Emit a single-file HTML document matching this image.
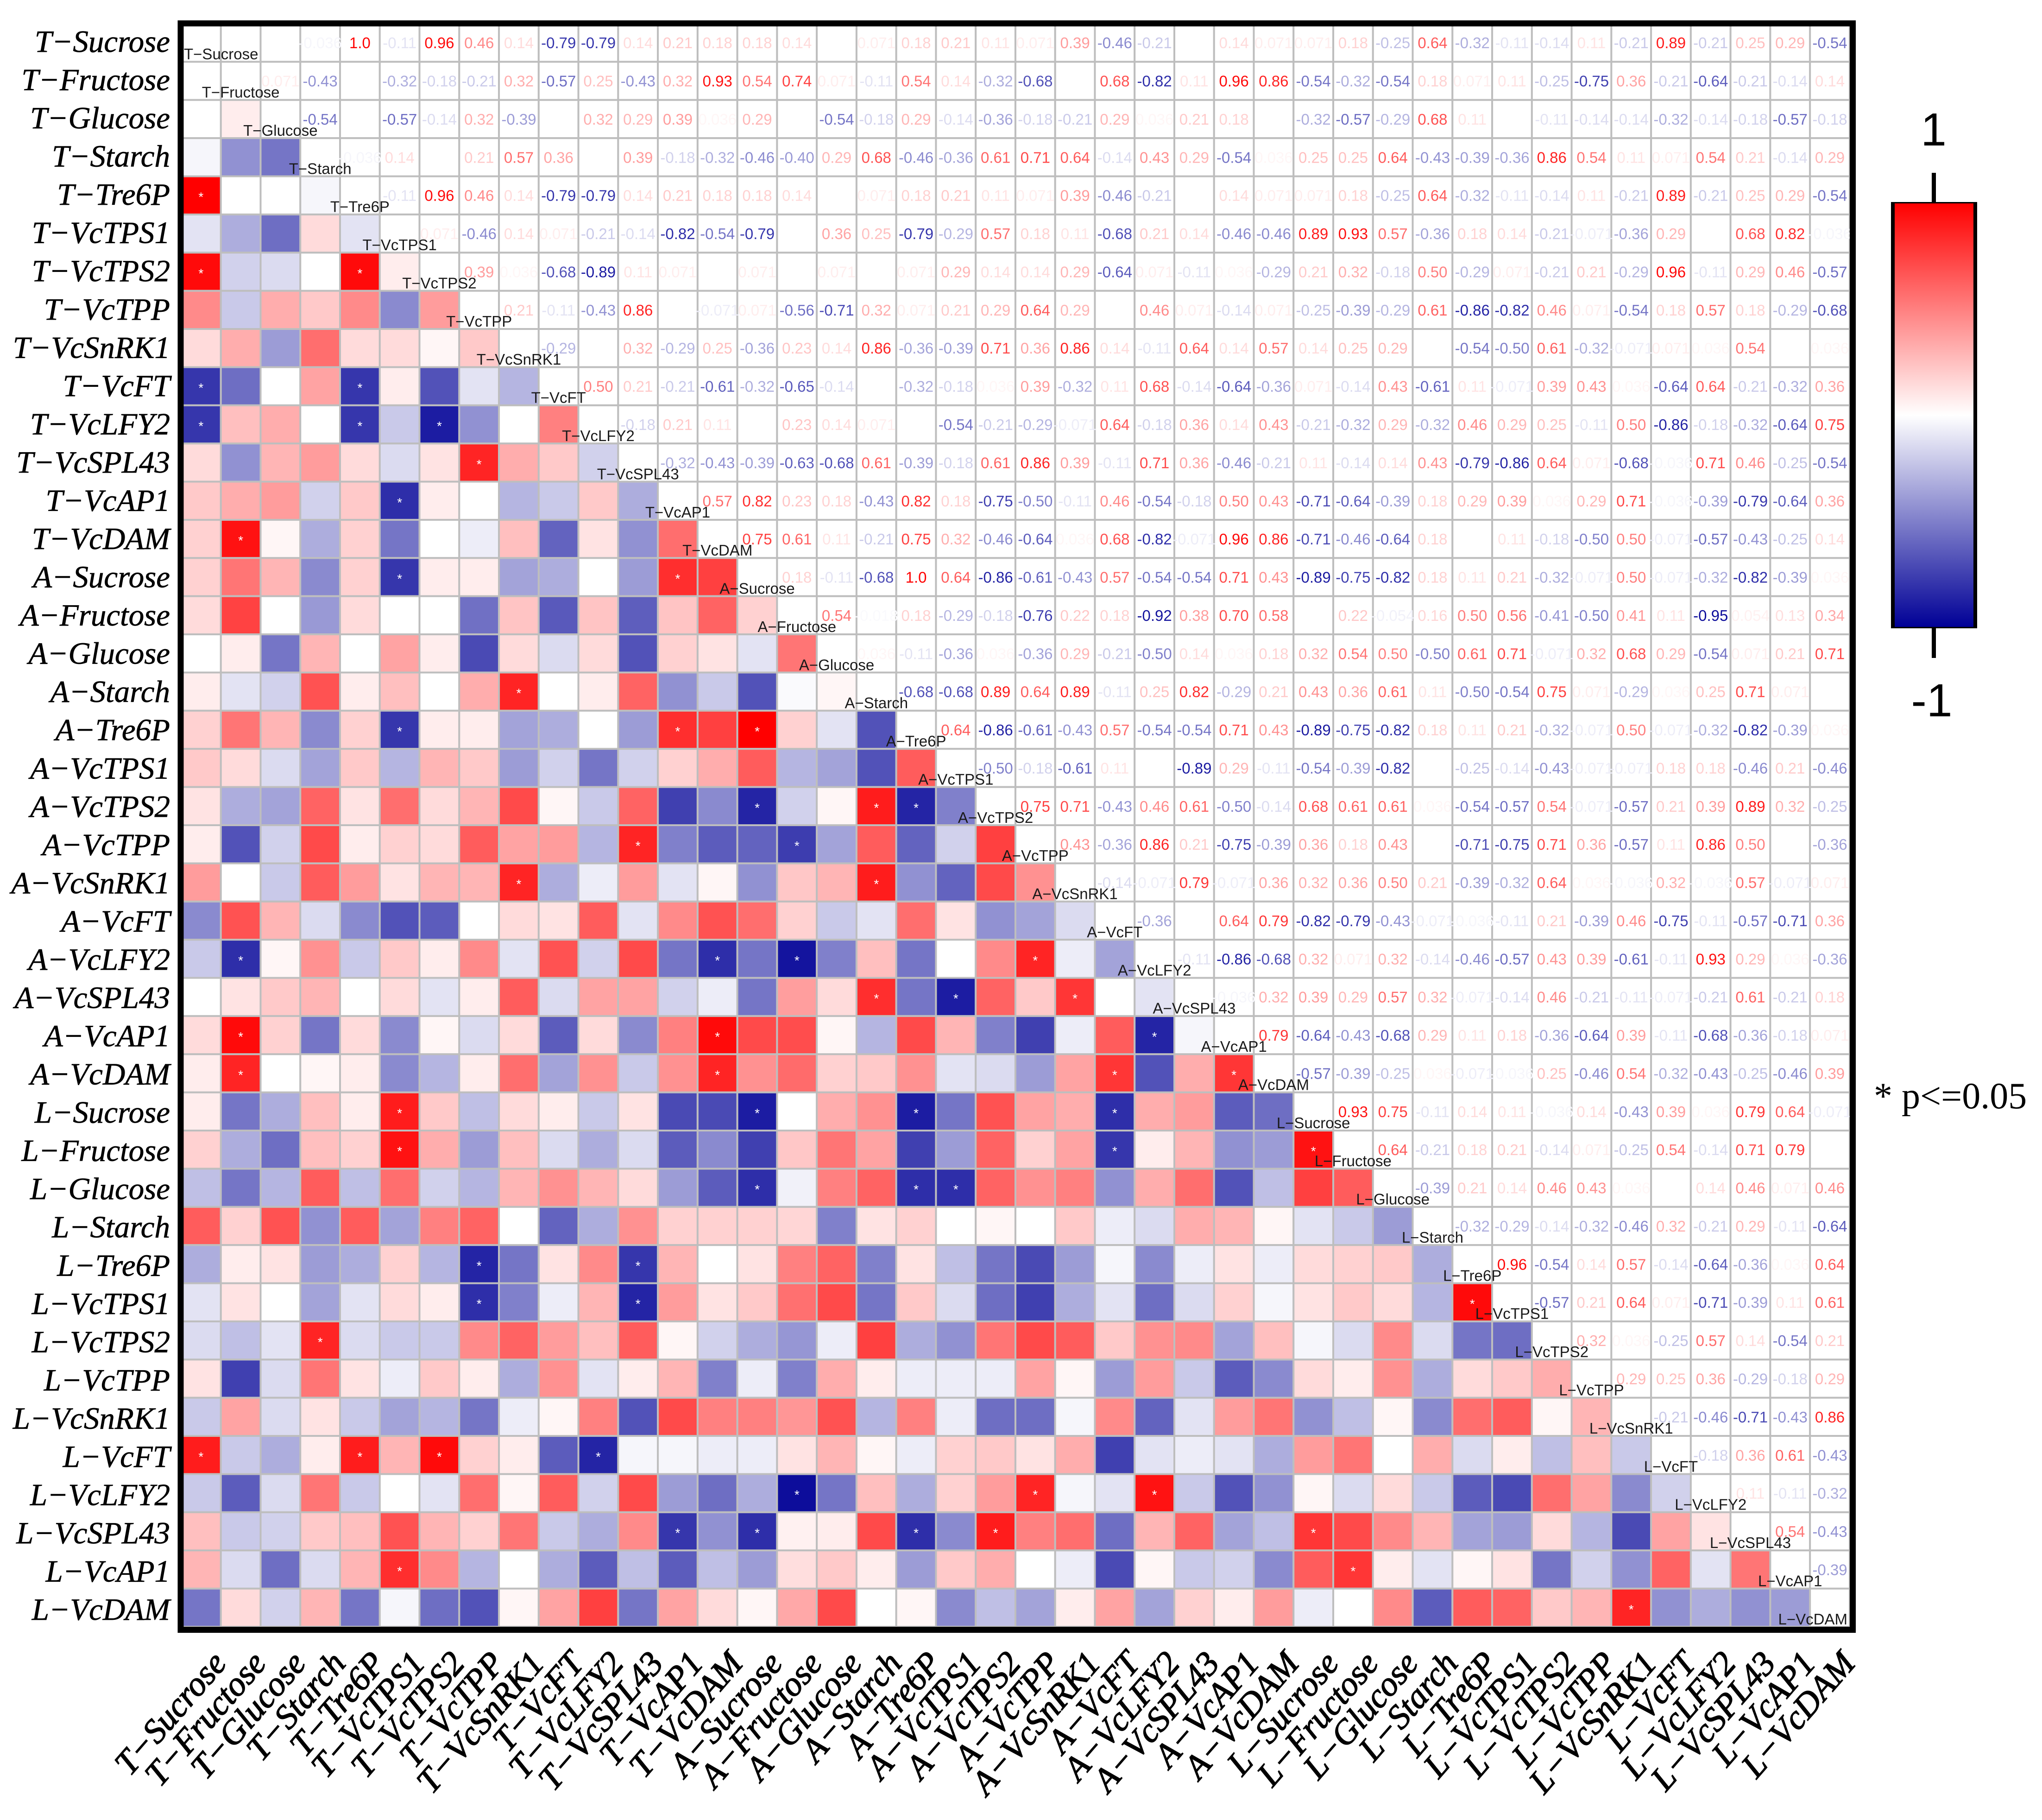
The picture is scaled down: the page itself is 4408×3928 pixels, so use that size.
<!DOCTYPE html>
<html lang="en">
<head>
<meta charset="utf-8">
<title>Correlation heatmap</title>
<style>
html,body{margin:0;padding:0;background:#fff;width:4408px;height:3928px;overflow:hidden}
svg{display:block}
</style>
</head>
<body>
<svg id="chart" xmlns="http://www.w3.org/2000/svg" width="4408" height="3928" viewBox="0 0 4408 3928">
  <defs>
    <linearGradient id="cbar" x1="0" y1="0" x2="0" y2="1">
      <stop offset="0" stop-color="#ff0000"/>
      <stop offset="0.5" stop-color="#ffffff"/>
      <stop offset="1" stop-color="#000096"/>
    </linearGradient>
  </defs>
  <rect x="0" y="0" width="4408" height="3928" fill="#fff"/>
  <g id="cells"></g>
  <g id="values" font-family="'Liberation Sans',sans-serif" font-size="33" text-anchor="middle"></g>
  <g id="stars" font-family="'Liberation Sans',sans-serif" font-size="28" text-anchor="middle" fill="#fff"></g>
  <g id="diag" font-family="'Liberation Sans',sans-serif" font-size="33" fill="#1a1a1a"></g>
  <rect x="390" y="50.5" width="3609.5" height="3467" fill="none" stroke="#000" stroke-width="13"/>
  <g id="ylabels" font-family="'Liberation Serif',serif" font-style="italic" font-size="67" text-anchor="end" fill="#000" stroke="#000" stroke-width="0.7"></g>
  <g id="xlabels" font-family="'Liberation Serif',serif" font-style="italic" font-size="74" text-anchor="end" fill="#000" stroke="#000" stroke-width="1.6"></g>
  <g>
    <rect x="4086" y="438" width="178" height="916" fill="url(#cbar)"/>
    <rect x="4082" y="437" width="8" height="918" fill="#000"/>
    <rect x="4260" y="437" width="8" height="918" fill="#000"/>
    <rect x="4082" y="436" width="186" height="3" fill="#000"/>
    <rect x="4082" y="1353" width="186" height="3" fill="#000"/>
    <rect x="4170" y="373" width="9" height="64" fill="#000"/>
    <rect x="4170" y="1355" width="9" height="65" fill="#000"/>
    <text x="4174" y="314" font-family="'Liberation Sans',sans-serif" font-size="100" text-anchor="middle">1</text>
    <text x="4170" y="1546" font-family="'Liberation Sans',sans-serif" font-size="100" text-anchor="middle">-1</text>
  </g>
  <text x="4045" y="2392" font-family="'Liberation Serif',serif" font-size="80">* p&lt;=0.05</text>
</svg>
<script>
const variables = ["T−Sucrose","T−Fructose","T−Glucose","T−Starch","T−Tre6P","T−VcTPS1","T−VcTPS2","T−VcTPP","T−VcSnRK1","T−VcFT","T−VcLFY2","T−VcSPL43","T−VcAP1","T−VcDAM","A−Sucrose","A−Fructose","A−Glucose","A−Starch","A−Tre6P","A−VcTPS1","A−VcTPS2","A−VcTPP","A−VcSnRK1","A−VcFT","A−VcLFY2","A−VcSPL43","A−VcAP1","A−VcDAM","L−Sucrose","L−Fructose","L−Glucose","L−Starch","L−Tre6P","L−VcTPS1","L−VcTPS2","L−VcTPP","L−VcSnRK1","L−VcFT","L−VcLFY2","L−VcSPL43","L−VcAP1","L−VcDAM"];

/* Upper-triangle correlations: each array holds a row's values for the columns right of the diagonal */
const rowTSucrose = [0,0,-.036,1,-.11,.96,.46,.14,-.79,-.79,.14,.21,.18,.18,.14,0,.071,.18,.21,.11,.071,.39,-.46,-.21,0,.14,.071,.071,.18,-.25,.64,-.32,-.11,-.14,.11,-.21,.89,-.21,.25,.29,-.54];
const rowTFructose = [.071,-.43,0,-.32,-.18,-.21,.32,-.57,.25,-.43,.32,.93,.54,.74,.071,-.11,.54,.14,-.32,-.68,0,.68,-.82,.11,.96,.86,-.54,-.32,-.54,.18,.071,.11,-.25,-.75,.36,-.21,-.64,-.21,-.14,.14];
const rowTGlucose = [-.54,0,-.57,-.14,.32,-.39,0,.32,.29,.39,.036,.29,0,-.54,-.18,.29,-.14,-.36,-.18,-.21,.29,.036,.21,.18,0,-.32,-.57,-.29,.68,.11,0,-.11,-.14,-.14,-.32,-.14,-.18,-.57,-.18];
const rowTStarch = [-.036,.14,0,.21,.57,.36,0,.39,-.18,-.32,-.46,-.40,.29,.68,-.46,-.36,.61,.71,.64,-.14,.43,.29,-.54,.036,.25,.25,.64,-.43,-.39,-.36,.86,.54,.11,.071,.54,.21,-.14,.29];
const rowTTre6P = [-.11,.96,.46,.14,-.79,-.79,.14,.21,.18,.18,.14,0,.071,.18,.21,.11,.071,.39,-.46,-.21,0,.14,.071,.071,.18,-.25,.64,-.32,-.11,-.14,.11,-.21,.89,-.21,.25,.29,-.54];
const rowTVcTPS1 = [.071,-.46,.14,.071,-.21,-.14,-.82,-.54,-.79,0,.36,.25,-.79,-.29,.57,.18,.11,-.68,.21,.14,-.46,-.46,.89,.93,.57,-.36,.18,.14,-.21,-.071,-.36,.29,0,.68,.82,-.036];
const rowTVcTPS2 = [.39,.036,-.68,-.89,.11,.071,0,.071,0,.071,0,.071,.29,.14,.14,.29,-.64,.071,-.11,.036,-.29,.21,.32,-.18,.50,-.29,.071,-.21,.21,-.29,.96,-.11,.29,.46,-.57];
const rowTVcTPP = [.21,-.11,-.43,.86,0,-.071,.071,-.56,-.71,.32,.071,.21,.29,.64,.29,0,.46,.071,-.14,.071,-.25,-.39,-.29,.61,-.86,-.82,.46,.071,-.54,.18,.57,.18,-.29,-.68];
const rowTVcSnRK1 = [-.29,0,.32,-.29,.25,-.36,.23,.14,.86,-.36,-.39,.71,.36,.86,.14,-.11,.64,.14,.57,.14,.25,.29,0,-.54,-.50,.61,-.32,-.071,.071,.036,.54,0,.036];
const rowTVcFT = [.50,.21,-.21,-.61,-.32,-.65,-.14,0,-.32,-.18,.036,.39,-.32,.11,.68,-.14,-.64,-.36,.071,-.14,.43,-.61,.11,-.071,.39,.43,.036,-.64,.64,-.21,-.32,.36];
const rowTVcLFY2 = [-.18,.21,.11,0,.23,.14,.071,0,-.54,-.21,-.29,-.071,.64,-.18,.36,.14,.43,-.21,-.32,.29,-.32,.46,.29,.25,-.11,.50,-.86,-.18,-.32,-.64,.75];
const rowTVcSPL43 = [-.32,-.43,-.39,-.63,-.68,.61,-.39,-.18,.61,.86,.39,-.11,.71,.36,-.46,-.21,.11,-.14,.14,.43,-.79,-.86,.64,.071,-.68,-.036,.71,.46,-.25,-.54];
const rowTVcAP1 = [.57,.82,.23,.18,-.43,.82,.18,-.75,-.50,-.11,.46,-.54,-.18,.50,.43,-.71,-.64,-.39,.18,.29,.39,.036,.29,.71,-.036,-.39,-.79,-.64,.36];
const rowTVcDAM = [.75,.61,.11,-.21,.75,.32,-.46,-.64,.036,.68,-.82,-.071,.96,.86,-.71,-.46,-.64,.18,0,.11,-.18,-.50,.50,-.071,-.57,-.43,-.25,.14];
const rowASucrose = [.18,-.11,-.68,1,.64,-.86,-.61,-.43,.57,-.54,-.54,.71,.43,-.89,-.75,-.82,.18,.11,.21,-.32,-.071,.50,-.071,-.32,-.82,-.39,.036];
const rowAFructose = [.54,-.018,.18,-.29,-.18,-.76,.22,.18,-.92,.38,.70,.58,0,.22,-.054,.16,.50,.56,-.41,-.50,.41,.11,-.95,.054,.13,.34];
const rowAGlucose = [.036,-.11,-.36,.036,-.36,.29,-.21,-.50,.14,.036,.18,.32,.54,.50,-.50,.61,.71,-.071,.32,.68,.29,-.54,.071,.21,.71];
const rowAStarch = [-.68,-.68,.89,.64,.89,-.11,.25,.82,-.29,.21,.43,.36,.61,.11,-.50,-.54,.75,.071,-.29,.036,.25,.71,.071,0];
const rowATre6P = [.64,-.86,-.61,-.43,.57,-.54,-.54,.71,.43,-.89,-.75,-.82,.18,.11,.21,-.32,-.071,.50,-.071,-.32,-.82,-.39,.036];
const rowAVcTPS1 = [-.50,-.18,-.61,.11,0,-.89,.29,-.11,-.54,-.39,-.82,0,-.25,-.14,-.43,-.071,-.071,.18,.18,-.46,.21,-.46];
const rowAVcTPS2 = [.75,.71,-.43,.46,.61,-.50,-.14,.68,.61,.61,.036,-.54,-.57,.54,-.071,-.57,.21,.39,.89,.32,-.25];
const rowAVcTPP = [.43,-.36,.86,.21,-.75,-.39,.36,.18,.43,0,-.71,-.75,.71,.36,-.57,.11,.86,.50,0,-.36];
const rowAVcSnRK1 = [-.14,-.071,.79,-.071,.36,.32,.36,.50,.21,-.39,-.32,.64,.036,-.036,.32,-.036,.57,-.071,.071];
const rowAVcFT = [-.36,0,.64,.79,-.82,-.79,-.43,-.071,-.036,-.11,.21,-.39,.46,-.75,-.11,-.57,-.71,.36];
const rowAVcLFY2 = [-.11,-.86,-.68,.32,.071,.32,-.14,-.46,-.57,.43,.39,-.61,-.11,.93,.29,.036,-.36];
const rowAVcSPL43 = [-.036,.32,.39,.29,.57,.32,-.071,-.14,.46,-.21,-.11,-.071,-.21,.61,-.21,.18];
const rowAVcAP1 = [.79,-.64,-.43,-.68,.29,.11,.18,-.36,-.64,.39,-.11,-.68,-.36,-.18,.071];
const rowAVcDAM = [-.57,-.39,-.25,.036,-.071,-.036,.25,-.46,.54,-.32,-.43,-.25,-.46,.39];
const rowLSucrose = [.93,.75,-.11,.14,.11,-.036,.14,-.43,.39,.036,.79,.64,-.071];
const rowLFructose = [.64,-.21,.18,.21,-.14,.071,-.25,.54,-.14,.71,.79,0];
const rowLGlucose = [-.39,.21,.14,.46,.43,.036,0,.14,.46,.071,.46];
const rowLStarch = [-.32,-.29,-.14,-.32,-.46,.32,-.21,.29,-.11,-.64];
const rowLTre6P = [.96,-.54,.14,.57,-.14,-.64,-.36,.036,.64];
const rowLVcTPS1 = [-.57,.21,.64,.071,-.71,-.39,.11,.61];
const rowLVcTPS2 = [.32,.036,-.25,.57,.14,-.54,.21];
const rowLVcTPP = [.29,.25,.36,-.29,-.18,.29];
const rowLVcSnRK1 = [-.21,-.46,-.71,-.43,.86];
const rowLVcFT = [-.18,.36,.61,-.43];
const rowLVcLFY2 = [.11,-.11,-.32];
const rowLVcSPL43 = [.54,-.43];
const rowLVcAP1 = [-.39];

const upperRows = [rowTSucrose,rowTFructose,rowTGlucose,rowTStarch,rowTTre6P,rowTVcTPS1,rowTVcTPS2,rowTVcTPP,rowTVcSnRK1,rowTVcFT,rowTVcLFY2,rowTVcSPL43,rowTVcAP1,rowTVcDAM,rowASucrose,rowAFructose,rowAGlucose,rowAStarch,rowATre6P,rowAVcTPS1,rowAVcTPS2,rowAVcTPP,rowAVcSnRK1,rowAVcFT,rowAVcLFY2,rowAVcSPL43,rowAVcAP1,rowAVcDAM,rowLSucrose,rowLFructose,rowLGlucose,rowLStarch,rowLTre6P,rowLVcTPS1,rowLVcTPS2,rowLVcTPP,rowLVcSnRK1,rowLVcFT,rowLVcLFY2,rowLVcSPL43,rowLVcAP1];

const SIGNIFICANT = 0.76;
const NS = "http://www.w3.org/2000/svg";
const X0 = 391, Y0 = 51, CW = 85.76, CH = 82.38;
function xAxis(i){ return X0 + i * CW; }
function yAxis(i){ return Y0 + i * CH; }
function yLabelBaseline(i){ return 112 + i * 82.54; }
function colorScale(v){
  const t = Math.min(1, Math.abs(v));
  if (v >= 0) { const c = Math.round(255 * (1 - t)); return "rgb(255," + c + "," + c + ")"; }
  const c = Math.round(255 * (1 - t));
  const b = Math.round(255 - 105 * t);
  return "rgb(" + c + "," + c + "," + b + ")";
}
function formatValue(v){
  const a = Math.abs(v);
  if (a >= 1) return (v < 0 ? "-" : "") + "1.0";
  return a < 0.1 ? v.toFixed(3) : v.toFixed(2);
}
function make(tag, attrs){
  const el = document.createElementNS(NS, tag);
  for (const k in attrs) el.setAttribute(k, attrs[k]);
  return el;
}
const cellsG = document.getElementById("cells");
const valuesG = document.getElementById("values");
const starsG = document.getElementById("stars");
const diagG = document.getElementById("diag");
const yG = document.getElementById("ylabels");
const xG = document.getElementById("xlabels");

function valueAt(r, c){
  if (r === c) return null;
  const a = Math.min(r, c), b = Math.max(r, c);
  return upperRows[a][b - a - 1];
}

variables.forEach(function(rowName, r){
  variables.forEach(function(colName, c){
    const v = valueAt(r, c);
    const rect = make("rect", {x: xAxis(c), y: yAxis(r), width: CW, height: CH, fill: (v === null || r < c) ? "#fff" : colorScale(v), stroke: "#bebebe", "stroke-width": 4});
    
    
    cellsG.appendChild(rect);
    if (v !== null && r < c && v !== 0) {
      const t = make("text", {x: xAxis(c) + CW / 2, y: yAxis(r) + CH / 2 + 12, fill: colorScale(v)});
      
      
      t.textContent = formatValue(v);
      valuesG.appendChild(t);
    }
    if (v !== null && r > c && Math.abs(v) >= SIGNIFICANT) {
      const s = make("text", {x: xAxis(c) + CW / 2, y: yAxis(r) + CH / 2 + 13});
      
      
      s.textContent = "*";
      starsG.appendChild(s);
    }
  });
});

variables.forEach(function(name, i){
  const last = variables.length - 1;
  const attrs = {y: yAxis(i) + CH / 2 + 36};
  if (i === 0) { attrs.x = 397; attrs["text-anchor"] = "start"; }
  else if (i === last) { attrs.x = 3988; attrs["text-anchor"] = "end"; }
  else { attrs.x = xAxis(i) + CW / 2; attrs["text-anchor"] = "middle"; }
  const d = make("text", attrs);
  
  
  d.textContent = name;
  diagG.appendChild(d);

  const yl = make("text", {x: 367, y: yLabelBaseline(i)});
  
  
  yl.textContent = name;
  yG.appendChild(yl);

  const cx = xAxis(i) + CW / 2 + 58;
  const xl = make("text", {transform: "translate(" + cx + " 3592) rotate(-49)"});
  
  
  xl.textContent = name;
  xG.appendChild(xl);
});
</script>
</body>
</html>
